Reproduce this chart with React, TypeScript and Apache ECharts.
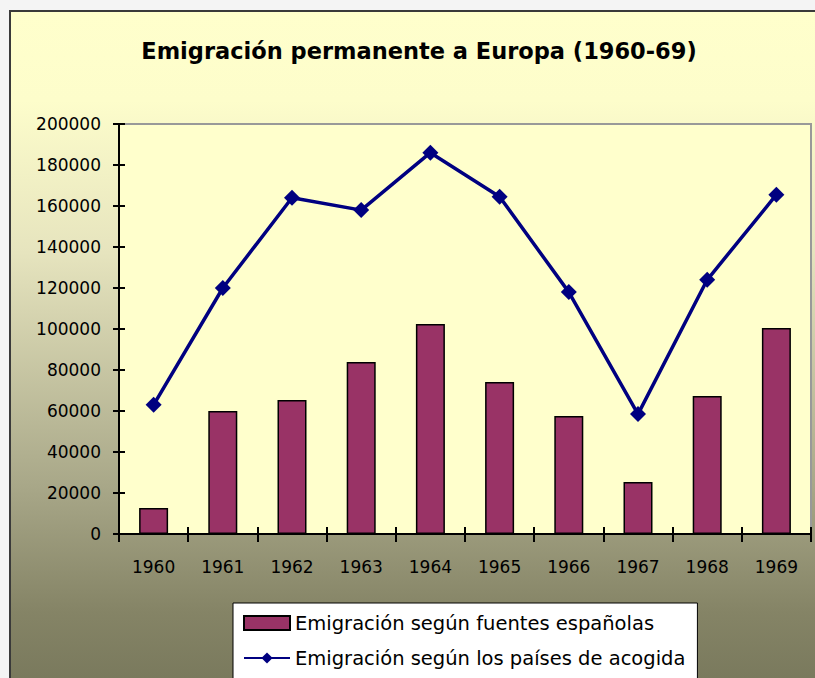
import React, { useEffect, useRef } from "react";
import * as echarts from "echarts";

const years = ["1960", "1961", "1962", "1963", "1964", "1965", "1966", "1967", "1968", "1969"];
const spanishSources = [12700, 60000, 65400, 83900, 102400, 74100, 57600, 25400, 67300, 100500];
const hostCountries = [63000, 120000, 164000, 158000, 186000, 164500, 118000, 58500, 124000, 165500];
const seriesNames = [
  "Emigración según fuentes españolas",
  "Emigración según los países de acogida",
];
const titleText = "Emigración permanente a Europa (1960-69)";

const FONT = "DejaVu Sans";

export default function App() {
  const ref = useRef<HTMLDivElement>(null);
  useEffect(() => {
    if (!ref.current) return;
    const chart = echarts.init(ref.current, undefined, { renderer: "svg" });
    chart.setOption({
      animation: false,
      graphic: [
        {
          type: "rect",
          z: -10,
          silent: true,
          shape: { x: 10, y: 11, width: 830, height: 690 },
          style: {
            fill: new echarts.graphic.LinearGradient(0, 0, 0, 1, [
              { offset: 0, color: "#FFFFCC" },
              { offset: 0.13, color: "#FDFDCB" },
              { offset: 0.35, color: "#E6E4BE" },
              { offset: 0.69, color: "#A8A788" },
              { offset: 0.87, color: "#858466" },
              { offset: 1, color: "#76765A" },
            ]),
            stroke: "#3a3a3a",
            lineWidth: 2,
          },
        },
        {
          type: "text",
          z: 10,
          style: {
            x: 419,
            y: 51,
            text: titleText,
            align: "center",
            verticalAlign: "middle",
            fontFamily: FONT,
            fontWeight: "bold",
            fontSize: 22.5,
            fill: "#000",
          },
        },
      ],
      grid: {
        left: 119,
        top: 124,
        right: 4,
        bottom: 144,
        show: true,
        backgroundColor: "#FFFFCC",
        borderColor: "#999999",
        borderWidth: 2,
      },
      legend: {
        orient: "vertical",
        left: 233,
        top: 603,
        height: 200,
        padding: [10, 12, 14, 10],
        backgroundColor: "#FFFFFF",
        borderColor: "#000000",
        borderWidth: 1,
        itemWidth: 46,
        itemHeight: 14,
        itemGap: 15,
        textStyle: { fontFamily: FONT, fontSize: 19.5, color: "#000" },
        data: [
          { name: seriesNames[0], icon: "rect" },
          { name: seriesNames[1] },
        ],
      },
      xAxis: [
        {
          type: "category",
          data: years,
          axisLine: { lineStyle: { color: "#000", width: 2 } },
          axisTick: { show: true, length: 8, lineStyle: { color: "#000", width: 2 } },
          axisLabel: { color: "#000", fontFamily: FONT, fontSize: 17, margin: 24 },
        },
        {
          type: "category",
          data: years,
          position: "bottom",
          axisLine: { show: false },
          axisTick: { show: true, inside: true, length: 7, lineStyle: { color: "#000", width: 2 } },
          axisLabel: { show: false },
        },
      ],
      yAxis: [
        {
          type: "value",
          min: 0,
          max: 200000,
          interval: 20000,
          splitLine: { show: false },
          axisLine: { show: true, lineStyle: { color: "#000", width: 2 } },
          axisTick: { show: true, length: 6, lineStyle: { color: "#000", width: 2 } },
          axisLabel: {
            color: "#000",
            fontFamily: FONT,
            fontSize: 17,
            margin: 18,
            formatter: (v: number) => String(v),
          },
        },
        {
          type: "value",
          min: 0,
          max: 200000,
          interval: 20000,
          position: "left",
          splitLine: { show: false },
          axisLine: { show: false },
          axisTick: { show: true, inside: true, length: 6, lineStyle: { color: "#000", width: 2 } },
          axisLabel: { show: false },
        },
      ],
      series: [
        {
          name: seriesNames[0],
          type: "bar",
          data: spanishSources,
          barWidth: 29,
          itemStyle: { color: "#993366", borderColor: "#000", borderWidth: 1.5 },
        },
        {
          name: seriesNames[1],
          type: "line",
          data: hostCountries,
          symbol: "diamond",
          symbolSize: 16,
          lineStyle: { color: "#000080", width: 3.5 },
          itemStyle: { color: "#000080" },
        },
      ],
    });
    return () => chart.dispose();
  }, []);
  return (
    <div
      ref={ref}
      style={{ position: "fixed", left: 0, top: 0, width: 815, height: 678, background: "#F4F4F4" }}
    />
  );
}
